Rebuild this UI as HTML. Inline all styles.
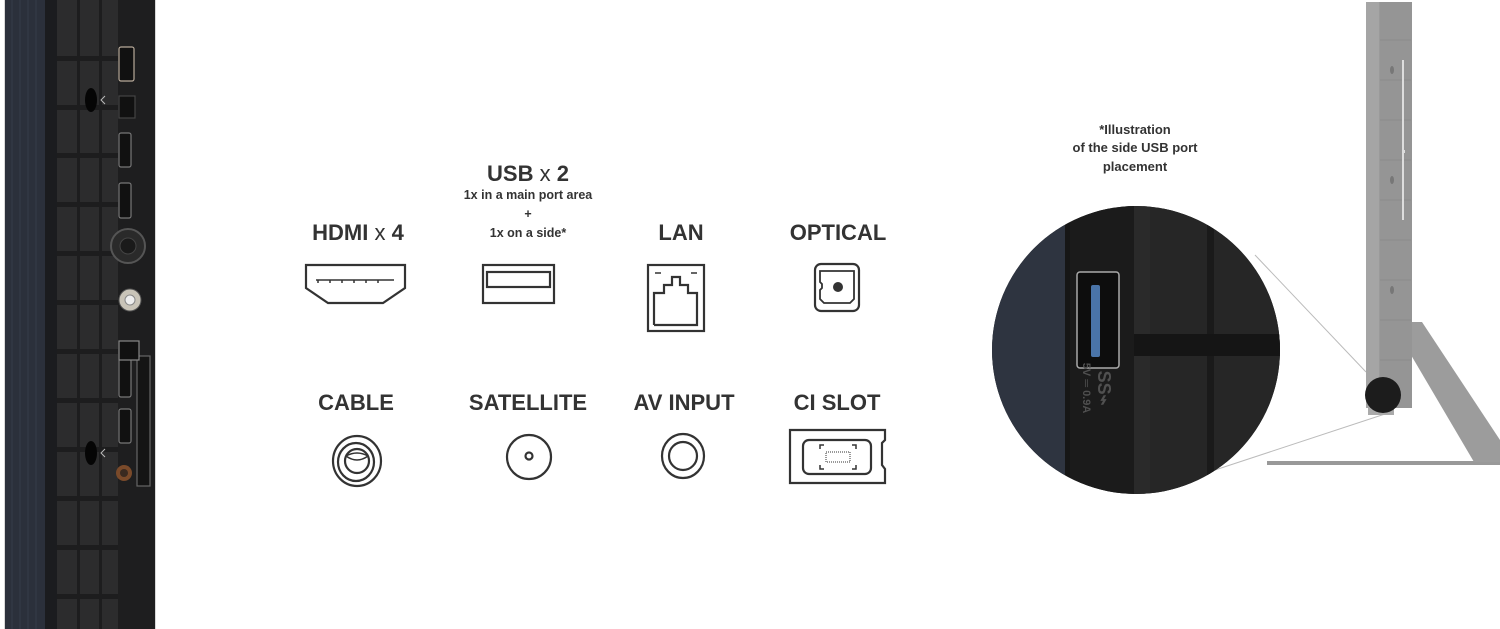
<!DOCTYPE html>
<html><head><meta charset="utf-8"><style>
html,body{margin:0;padding:0;background:#fff;}
svg{display:block}
text{font-family:"Liberation Sans",Arial,sans-serif;font-weight:bold;fill:#333;text-anchor:middle}
</style></head><body>
<svg width="1500" height="629" viewBox="0 0 1500 629" xmlns="http://www.w3.org/2000/svg">
<defs>
<clipPath id="cc"><circle cx="1136" cy="350" r="144"/></clipPath>
</defs>
<!-- LEFT PANEL -->
<rect x="4" y="0" width="152" height="629" fill="#d8d8d8"/>
<rect x="5" y="0" width="40" height="629" fill="#2b303b"/>
<g stroke="#363c48" stroke-width="1">
<line x1="12" y1="0" x2="12" y2="629"/><line x1="20" y1="0" x2="20" y2="629"/><line x1="28" y1="0" x2="28" y2="629"/><line x1="36" y1="0" x2="36" y2="629"/>
</g>
<rect x="45" y="0" width="12" height="629" fill="#1b1c1f"/>
<rect x="57" y="0" width="61" height="629" fill="#2c2c2d"/>
<g fill="#1d1d1e">
<rect x="77" y="0" width="3" height="629"/><rect x="99" y="0" width="3" height="629"/>
<rect x="57" y="56" width="61" height="5"/><rect x="57" y="105" width="61" height="5"/><rect x="57" y="153" width="61" height="5"/>
<rect x="57" y="202" width="61" height="5"/><rect x="57" y="251" width="61" height="5"/><rect x="57" y="300" width="61" height="5"/>
<rect x="57" y="349" width="61" height="5"/><rect x="57" y="398" width="61" height="5"/><rect x="57" y="447" width="61" height="5"/>
<rect x="57" y="496" width="61" height="5"/><rect x="57" y="545" width="61" height="5"/><rect x="57" y="594" width="61" height="5"/>
</g>
<rect x="118" y="0" width="37" height="629" fill="#1e1e1f"/>
<ellipse cx="91" cy="100" rx="6" ry="12" fill="#050505"/>
<ellipse cx="91" cy="453" rx="6" ry="12" fill="#050505"/>
<g fill="none" stroke="#bbb" stroke-width="1"><polyline points="105,96 101,100 105,104"/><polyline points="105,449 101,453 105,457"/></g>
<g fill="#111" stroke="#777" stroke-width="1.2">
<rect x="119" y="47" width="15" height="34" rx="2" stroke="#b8aa9a"/>
<rect x="119" y="96" width="16" height="22" stroke="#444"/>
<rect x="119" y="133" width="12" height="34" rx="2"/>
<rect x="119" y="183" width="12" height="35" rx="2"/>
<rect x="119" y="359" width="12" height="38" rx="2"/>
<rect x="119" y="409" width="12" height="34" rx="2"/>
<rect x="137" y="356" width="13" height="130" fill="#141414" stroke="#666"/>
<rect x="119" y="341" width="20" height="19" stroke="#888"/>
</g>
<circle cx="128" cy="246" r="17" fill="#2a2a2a" stroke="#555" stroke-width="2"/>
<circle cx="128" cy="246" r="8" fill="#1a1a1a" stroke="#444"/>
<circle cx="130" cy="300" r="11" fill="#c9c4b8" stroke="#555"/>
<circle cx="130" cy="300" r="5" fill="#eee" stroke="#888"/>
<circle cx="124" cy="473" r="8" fill="#7a4a2a"/>
<circle cx="124" cy="473" r="4" fill="#3a2a20"/>

<!-- ICON LABELS -->
<text x="358" y="240" font-size="22">HDMI <tspan font-weight="normal">x</tspan> 4</text>
<text x="528" y="181" font-size="22">USB <tspan font-weight="normal">x</tspan> 2</text>
<text x="528" y="199" font-size="12.5">1x in a main port area</text>
<text x="528" y="218" font-size="12.5">+</text>
<text x="528" y="237" font-size="12.5">1x on a side*</text>
<text x="681" y="240" font-size="22">LAN</text>
<text x="838" y="240" font-size="22">OPTICAL</text>
<text x="356" y="410" font-size="22">CABLE</text>
<text x="528" y="410" font-size="22">SATELLITE</text>
<text x="684" y="410" font-size="22">AV INPUT</text>
<text x="837" y="410" font-size="22">CI SLOT</text>

<g fill="none" stroke="#333" stroke-width="2.2">
<polygon points="306,265 405,265 405,288 383,303 328,303 306,288"/>
<line x1="316" y1="280" x2="394" y2="280" stroke-width="1.5"/>
<rect x="483" y="265" width="71" height="38"/>
<rect x="487" y="272" width="63" height="15"/>
<rect x="648" y="265" width="56" height="66"/>
<polyline points="654,325 697,325 697,293 688,293 688,285 680,285 680,277 672,277 672,285 664,285 664,293 654,293 654,325"/>
<rect x="815" y="264" width="44" height="47" rx="6"/>
<path d="M820,271 h34 v28 l-4,4 h-26 l-4,-4 v-9 l2,-2 v-4 l-2,-2 z" stroke-width="1.8"/>
<ellipse cx="357" cy="461" rx="24" ry="25"/>
<ellipse cx="356" cy="462" rx="18" ry="19"/>
<ellipse cx="357" cy="461" rx="12" ry="12"/>
<ellipse cx="529" cy="457" rx="22" ry="22"/>
<circle cx="529" cy="456" r="3.5"/>
<ellipse cx="683" cy="456" rx="21" ry="22"/>
<circle cx="683" cy="456" r="14"/>
<path d="M790,430 h95 v10 l-3,3 v22 l3,4 v14 h-95 z"/>
<rect x="803" y="440" width="68" height="34" rx="6"/>
</g>
<circle cx="838" cy="287" r="5" fill="#333"/>
<g stroke="#333" stroke-width="1.5" fill="none">
<line x1="318" y1="280" x2="318" y2="283"/><line x1="330" y1="280" x2="330" y2="283"/><line x1="342" y1="280" x2="342" y2="283"/><line x1="354" y1="280" x2="354" y2="283"/><line x1="366" y1="280" x2="366" y2="283"/><line x1="378" y1="280" x2="378" y2="283"/>
<line x1="655" y1="273" x2="661" y2="273"/><line x1="691" y1="273" x2="697" y2="273"/>
<path d="M346,456 q11,-6 22,0 M346,456 q11,8 22,0"/>
<path d="M820,449 v-4 h4 M852,445 h4 v4 M820,465 v4 h4 M852,469 h4 v-4"/>
</g>
<rect x="826" y="452" width="24" height="10" fill="none" stroke="#333" stroke-width="1" stroke-dasharray="1,1"/>

<!-- RIGHT SIDE -->
<text x="1135" y="134" font-size="13">*Illustration</text>
<text x="1135" y="152" font-size="13">of the side USB port</text>
<text x="1135" y="171" font-size="13">placement</text>

<line x1="1255" y1="255" x2="1366" y2="372" stroke="#bbb" stroke-width="1"/>
<line x1="1212" y1="471" x2="1385" y2="414" stroke="#bbb" stroke-width="1"/>

<rect x="1267" y="461" width="233" height="4" fill="#999"/>
<polygon points="1411,322 1422,322 1500,440 1500,462 1474,462 1411,355" fill="#9c9c9c"/>
<rect x="1366" y="2" width="46" height="406" fill="#9a9a9a"/>
<rect x="1366" y="2" width="13" height="406" fill="#a5a5a5"/>
<rect x="1380" y="2" width="32" height="406" fill="#959595"/>
<g stroke="#8a8a8a" stroke-width="1">
<line x1="1380" y1="40" x2="1411" y2="40"/><line x1="1380" y1="80" x2="1411" y2="80"/><line x1="1380" y1="120" x2="1411" y2="120"/><line x1="1380" y1="160" x2="1411" y2="160"/><line x1="1380" y1="200" x2="1411" y2="200"/><line x1="1380" y1="240" x2="1411" y2="240"/><line x1="1380" y1="280" x2="1411" y2="280"/><line x1="1380" y1="320" x2="1411" y2="320"/><line x1="1380" y1="360" x2="1411" y2="360"/>
</g>
<g fill="#ddd"><rect x="1402" y="60" width="2" height="150"/><rect x="1402" y="150" width="3" height="3"/><rect x="1402" y="200" width="2" height="20"/></g>
<ellipse cx="1392" cy="70" rx="2" ry="4" fill="#777"/><ellipse cx="1392" cy="180" rx="2" ry="4" fill="#777"/><ellipse cx="1392" cy="290" rx="2" ry="4" fill="#777"/>
<rect x="1368" y="408" width="26" height="7" fill="#aaa"/>
<circle cx="1383" cy="395" r="18" fill="#1c1c1c"/>

<g clip-path="url(#cc)">
<rect x="990" y="205" width="300" height="290" fill="#1f1f1f"/>
<rect x="990" y="205" width="75" height="290" fill="#2e3440"/>
<rect x="1065" y="205" width="5" height="290" fill="#161616"/>
<rect x="1070" y="205" width="64" height="290" fill="#1b1b1b"/>
<rect x="1134" y="205" width="16" height="290" fill="#2a2a2a"/>
<rect x="1150" y="205" width="140" height="290" fill="#262626"/>
<rect x="1207" y="205" width="7" height="290" fill="#1a1a1a"/>
<rect x="1134" y="334" width="156" height="22" fill="#151515"/>
<rect x="1077" y="272" width="42" height="96" rx="3" fill="#0d0d0d" stroke="#aaa" stroke-width="1.5"/>
<rect x="1091" y="285" width="9" height="72" rx="2" fill="#4a74a8"/>
<text x="0" y="0" font-size="18" style="fill:#505050" transform="translate(1098,388) rotate(90)" text-anchor="start">SS⌁</text>
<text x="0" y="0" font-size="11" style="fill:#505050" transform="translate(1083,388) rotate(90)" text-anchor="start">5V ═ 0.9A</text>
</g>
</svg>
</body></html>
